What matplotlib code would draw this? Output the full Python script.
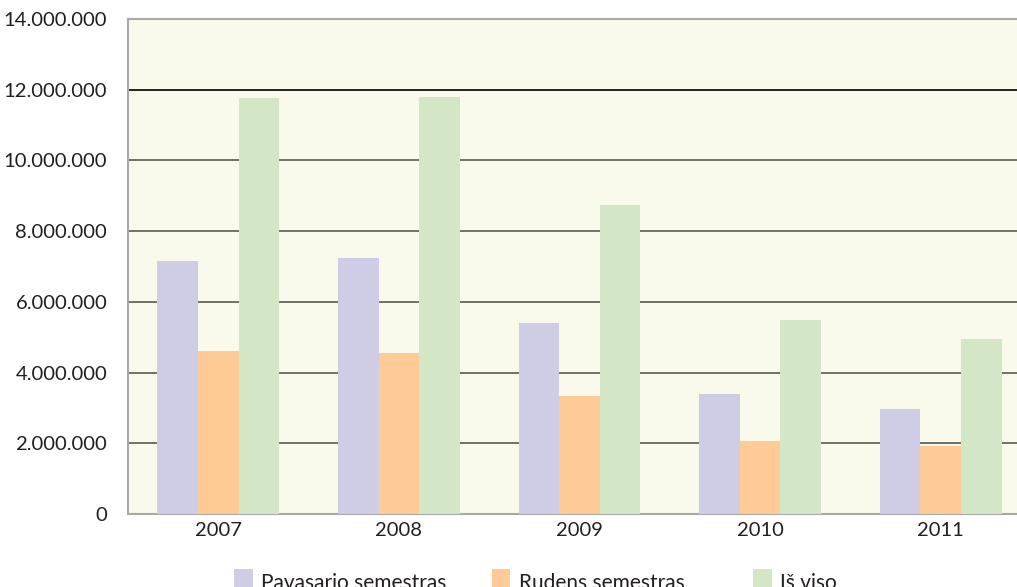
import matplotlib
matplotlib.use("Agg")
import matplotlib.pyplot as plt
import numpy as np
from matplotlib.patches import Rectangle

years = ["2007", "2008", "2009", "2010", "2011"]
series_labels = ["Pavasario semestras", "Rudens semestras", "Iš viso"]
pavasario = [7150000, 7230000, 5410000, 3390000, 2970000]
rudens = [4600000, 4540000, 3340000, 2070000, 1930000]
is_viso = [11770000, 11800000, 8750000, 5490000, 4960000]
yticks = [0, 2000000, 4000000, 6000000, 8000000, 10000000, 12000000, 14000000]
ytick_labels = ["0", "2.000.000", "4.000.000", "6.000.000", "8.000.000",
                "10.000.000", "12.000.000", "14.000.000"]

colors = ["#CFCDE5", "#FECB97", "#D3E7C6"]
plt.rcParams['font.family'] = ['Lato', 'DejaVu Sans']

fig = plt.figure(figsize=(10.17, 5.87), dpi=100)
W, H = 1017, 587
left, right, bottom_px, top_px = 128, 1031, 514, 19
ax = fig.add_axes([left / W, (H - bottom_px) / H, (right - left) / W, (bottom_px - top_px) / H])
ax.set_facecolor("#F9F9EC")

x = np.arange(len(years))
w = 0.225
for i, (vals, c) in enumerate(zip([pavasario, rudens, is_viso], colors)):
    ax.bar(x + (i - 1) * w, vals, width=w, color=c, zorder=3, linewidth=0)

ax.set_xlim(-0.5, 4.5)
ax.set_ylim(0, 14000000)
ax.set_yticks(yticks)
ax.set_yticklabels(ytick_labels, fontsize=14.6, color="#231f20")
ax.set_xticks(x)
ax.set_xticklabels(years, fontsize=14.5, color="#231f20")
ax.tick_params(axis='y', length=0, pad=15)
ax.tick_params(axis='x', length=0, pad=6)

for v in yticks[1:-1]:
    col = "#111111" if v == 12000000 else "#66665e"
    ax.axhline(v, color=col, lw=1.3, zorder=1)

for s in ["left", "bottom", "top"]:
    ax.spines[s].set_color("#a8a8a8")
    ax.spines[s].set_linewidth(1.5)
ax.spines["right"].set_visible(False)

# legend (manual, fixed column layout)
leg_x = [234, 492, 753]
for lx, lab, c in zip(leg_x, series_labels, colors):
    fig.patches.append(Rectangle((lx / W, 0), 18.5 / W, (H - 569) / H,
                                 transform=fig.transFigure, color=c, lw=0))
    fig.text((lx + 27) / W, (H - 589) / H, lab, fontsize=15, color="#231f20",
             ha="left", va="baseline")

fig.savefig("out.png", dpi=100)
